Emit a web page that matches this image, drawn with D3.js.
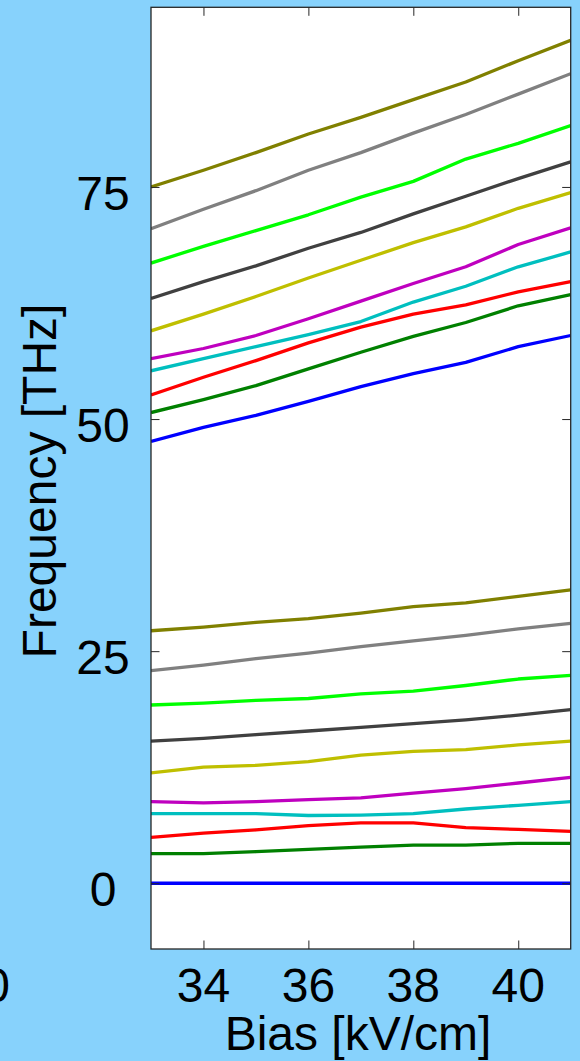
<!DOCTYPE html>
<html>
<head>
<meta charset="utf-8">
<script src="https://cdn.jsdelivr.net/npm/d3@7"></script>
<style>
  html, body { margin: 0; padding: 0; background: #87d2fc; }
  svg { display: block; }
  text { font-family: "Liberation Sans", Arial, sans-serif; fill: #000; }
</style>
</head>
<body>
<svg id="chart" width="580" height="1061"></svg>
<script>
// Bias sweep (kV/cm)
const bias = [33, 34, 35, 36, 37, 38, 39, 40, 41];

// Mode frequencies (THz) at each bias point, lowest band
const f01 = [0, 0, 0, 0, 0, 0, 0, 0, 0];
const f02 = [3.2, 3.2, 3.4, 3.65, 3.9, 4.1, 4.1, 4.3, 4.3];
const f03 = [4.95, 5.4, 5.75, 6.2, 6.5, 6.5, 6.0, 5.8, 5.6];
const f04 = [7.5, 7.5, 7.5, 7.3, 7.35, 7.5, 8.0, 8.4, 8.8];
const f05 = [8.8, 8.65, 8.8, 9.0, 9.2, 9.7, 10.2, 10.8, 11.4];
const f06 = [11.9, 12.5, 12.7, 13.1, 13.8, 14.2, 14.4, 14.9, 15.3];
const f07 = [15.3, 15.6, 16.0, 16.4, 16.8, 17.2, 17.6, 18.1, 18.7];
const f08 = [19.2, 19.4, 19.7, 19.9, 20.4, 20.7, 21.3, 22.0, 22.4];
const f09 = [22.9, 23.5, 24.2, 24.8, 25.5, 26.1, 26.7, 27.4, 28.0];
const f10 = [27.2, 27.6, 28.1, 28.5, 29.1, 29.8, 30.2, 30.9, 31.6];

// Upper band
const f11 = [47.6, 49.1, 50.4, 51.9, 53.5, 54.9, 56.1, 57.8, 59.0];
const f12 = [50.7, 52.1, 53.6, 55.4, 57.2, 58.9, 60.4, 62.2, 63.4];
const f13 = [52.6, 54.5, 56.3, 58.2, 59.9, 61.3, 62.3, 63.7, 64.8];
const f14 = [55.2, 56.5, 57.8, 59.1, 60.5, 62.6, 64.3, 66.4, 68.0];
const f15 = [56.5, 57.6, 59.0, 60.8, 62.7, 64.6, 66.4, 68.8, 70.6];
const f16 = [59.5, 61.3, 63.2, 65.2, 67.1, 69.0, 70.7, 72.7, 74.4];
const f17 = [63.0, 64.8, 66.5, 68.4, 70.1, 72.1, 74.0, 75.9, 77.7];
const f18 = [66.8, 68.6, 70.3, 72.0, 73.9, 75.6, 78.0, 79.7, 81.6];
const f19 = [70.5, 72.6, 74.6, 76.8, 78.7, 80.8, 82.8, 85.0, 87.2];
const f20 = [75.0, 76.8, 78.7, 80.7, 82.5, 84.4, 86.3, 88.6, 90.8];

const modes = [f01, f02, f03, f04, f05, f06, f07, f08, f09, f10,
               f11, f12, f13, f14, f15, f16, f17, f18, f19, f20];

// Colour cycle applied per mode
const palette = ["#0000ff", "#008000", "#ff0000", "#00bfbf", "#bf00bf",
                 "#bfbf00", "#404040", "#00ff00", "#808080", "#808000"];

const xTicks = [34, 36, 38, 40];
const yTicks = [0, 25, 50, 75];

const svg = d3.select("#chart");
const plotL = 151, plotR = 570.7, plotT = 7.3, plotB = 949;
const fontSize = 48;

const x = d3.scaleLinear().domain([33, 41]).range([plotL, plotR]);
const y = d3.scaleLinear().domain([-7.08, 94.35]).range([plotB, plotT]);

// plot area
svg.append("rect")
  .attr("x", plotL).attr("y", plotT)
  .attr("width", plotR - plotL).attr("height", plotB - plotT)
  .attr("fill", "#fff");

svg.append("clipPath").attr("id", "plotclip")
  .append("rect")
  .attr("x", plotL).attr("y", plotT)
  .attr("width", plotR - plotL).attr("height", plotB - plotT);

const line = d3.line()
  .x((d, i) => x(bias[i]))
  .y(d => y(d));

svg.append("g").attr("clip-path", "url(#plotclip)")
  .selectAll("path")
  .data(modes)
  .join("path")
  .attr("d", d => line(d))
  .attr("fill", "none")
  .attr("stroke", (d, i) => palette[i % palette.length])
  .attr("stroke-width", 3.3)
  .attr("stroke-linejoin", "round");

// ticks on all four sides, pointing inward
const tickLen = 8.5;
const axisColor = "#262626";
const axisBottom = d3.axisBottom(x).tickValues(xTicks).tickSizeInner(-tickLen).tickSizeOuter(0).tickFormat("");
const axisTop = d3.axisTop(x).tickValues(xTicks).tickSizeInner(-tickLen).tickSizeOuter(0).tickFormat("");
const axisLeft = d3.axisLeft(y).tickValues(yTicks).tickSizeInner(-tickLen).tickSizeOuter(0).tickFormat("");
const axisRight = d3.axisRight(y).tickValues(yTicks).tickSizeInner(-tickLen).tickSizeOuter(0).tickFormat("");

[[axisBottom, `translate(0,${plotB})`], [axisTop, `translate(0,${plotT})`],
 [axisLeft, `translate(${plotL},0)`], [axisRight, `translate(${plotR},0)`]]
  .forEach(([ax, tr]) => {
    const g = svg.append("g").attr("transform", tr).call(ax);
    g.select(".domain").remove();
    g.selectAll("line").attr("stroke", axisColor).attr("stroke-width", 1);
  });

// frame
svg.append("rect")
  .attr("x", plotL).attr("y", plotT)
  .attr("width", plotR - plotL).attr("height", plotB - plotT)
  .attr("fill", "none")
  .attr("stroke", axisColor)
  .attr("stroke-width", 1.3);

// tick labels
svg.append("g").selectAll("text")
  .data(xTicks).join("text")
  .attr("x", d => x(d)).attr("y", 1001.5)
  .attr("text-anchor", "middle")
  .attr("font-size", fontSize)
  .text(d => d);

svg.append("g").selectAll("text")
  .data(yTicks).join("text")
  .attr("x", 103).attr("y", d => y(d) + 23)
  .attr("text-anchor", "middle")
  .attr("font-size", fontSize)
  .text(d => d);

// neighbouring panel's last tick label, cut at the left edge
svg.append("text")
  .attr("x", 10).attr("y", 1001.5)
  .attr("text-anchor", "end")
  .attr("font-size", fontSize)
  .text("0");

// axis titles
svg.append("text")
  .attr("x", 358).attr("y", 1050)
  .attr("text-anchor", "middle")
  .attr("font-size", fontSize)
  .text("Bias [kV/cm]");

svg.append("text")
  .attr("transform", "translate(56,481) rotate(-90)")
  .attr("text-anchor", "middle")
  .attr("font-size", fontSize)
  .text("Frequency [THz]");
</script>
</body>
</html>
